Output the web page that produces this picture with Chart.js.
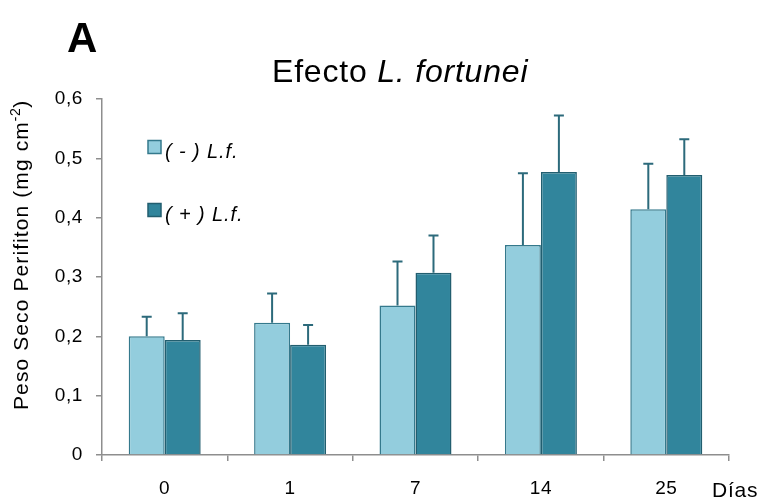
<!DOCTYPE html>
<html>
<head>
<meta charset="utf-8">
<title>Efecto L. fortunei</title>
<script src="https://cdn.jsdelivr.net/npm/chart.js@4/dist/chart.umd.min.js"></script>
<style>
  html, body { margin: 0; padding: 0; background: #ffffff; }
  #wrap { width: 764px; height: 499px; position: relative; }
</style>
</head>
<body>
<div id="wrap"><canvas id="chart" width="764" height="499"></canvas></div>
<script>
// Sampling days
const dias = ['0', '1', '7', '14', '25'];
// Mean periphyton dry weight (mg cm-2) without / with L. fortunei
const sinLf = [0.200, 0.223, 0.252, 0.354, 0.414];
const conLf = [0.194, 0.186, 0.307, 0.477, 0.472];
// Upper error (SD) for each mean
const errSinLf = [0.033, 0.049, 0.074, 0.121, 0.077];
const errConLf = [0.045, 0.033, 0.063, 0.095, 0.060];
// Legend labels
const serieNames = ['( - ) L.f.', '( + ) L.f.'];
// Y tick values
const yTicks = [0, 0.1, 0.2, 0.3, 0.4, 0.5, 0.6];

const FONT = "'Liberation Sans', Arial, Helvetica, sans-serif";
const LIGHT = '#93CDDD', LIGHT_EDGE = '#34798C';
const DARK = '#31859C', DARK_EDGE = '#225E6F';
const ERR = '#2C6A7B';
const AXIS = '#8E8E8E';

// Error bars (upward only) drawn from each bar's top
const errorBars = {
  id: 'errorBars',
  afterDatasetsDraw(chart) {
    const ctx = chart.ctx;
    const y = chart.scales.y;
    chart.data.datasets.forEach((ds, di) => {
      const meta = chart.getDatasetMeta(di);
      meta.data.forEach((bar, i) => {
        const top = y.getPixelForValue(ds.data[i] + ds.errores[i]);
        ctx.save();
        ctx.strokeStyle = ERR;
        ctx.lineWidth = 2;
        ctx.beginPath();
        ctx.moveTo(bar.x, bar.y);
        ctx.lineTo(bar.x, top);
        ctx.moveTo(bar.x - 5, top);
        ctx.lineTo(bar.x + 5, top);
        ctx.stroke();
        ctx.restore();
      });
    });
  }
};

// Panel letter, title, axis titles and legend
const decor = {
  id: 'decor',
  beforeDraw(chart) {
    chart.ctx.letterSpacing = '0.6px';
  },
  afterDraw(chart) {
    const ctx = chart.ctx;
    ctx.save();
    ctx.fillStyle = '#000';
    ctx.textBaseline = 'alphabetic';
    ctx.textAlign = 'left';

    // panel letter
    ctx.letterSpacing = '0px';
    ctx.font = `bold 42px ${FONT}`;
    ctx.fillText('A', 67, 52);

    // title with italic species name
    ctx.letterSpacing = '0.8px';
    ctx.font = `32px ${FONT}`;
    const t1 = 'Efecto ';
    ctx.fillText(t1, 272, 82);
    const w1 = ctx.measureText(t1).width;
    ctx.font = `italic 32px ${FONT}`;
    ctx.fillText('L. fortunei', 272 + w1, 82);

    // x axis title
    ctx.letterSpacing = '0.8px';
    ctx.font = `21px ${FONT}`;
    ctx.fillText('Días', 712, 497);

    // y axis title (rotated) with superscript
    ctx.save();
    ctx.translate(28, 410);
    ctx.rotate(-Math.PI / 2);
    ctx.letterSpacing = '1.1px';
    ctx.font = `21px ${FONT}`;
    const a = 'Peso Seco Perifiton (mg cm';
    ctx.fillText(a, 0, 0);
    let x = ctx.measureText(a).width;
    ctx.font = `14px ${FONT}`;
    ctx.letterSpacing = '0.5px';
    ctx.fillText('-2', x, -8);
    x += ctx.measureText('-2').width;
    ctx.font = `21px ${FONT}`;
    ctx.letterSpacing = '1.1px';
    ctx.fillText(')', x, 0);
    ctx.restore();

    // legend
    const items = [
      { name: serieNames[0], fill: LIGHT, edge: LIGHT_EDGE, cy: 147 },
      { name: serieNames[1], fill: DARK, edge: DARK_EDGE, cy: 210 }
    ];
    items.forEach(it => {
      ctx.fillStyle = it.fill;
      ctx.fillRect(148, it.cy - 6.5, 13, 13);
      ctx.strokeStyle = it.edge;
      ctx.lineWidth = 1.5;
      ctx.strokeRect(148, it.cy - 6.5, 13, 13);
      ctx.fillStyle = '#000';
      ctx.letterSpacing = '0.9px';
      ctx.font = `italic 20px ${FONT}`;
      ctx.fillText(it.name, 165, it.cy + 11);
    });
    ctx.restore();
  }
};

new Chart(document.getElementById('chart'), {
  type: 'bar',
  data: {
    labels: dias,
    datasets: [
      { label: serieNames[0], data: sinLf, errores: errSinLf,
        backgroundColor: LIGHT, borderColor: LIGHT_EDGE, borderWidth: 1.5 },
      { label: serieNames[1], data: conLf, errores: errConLf,
        backgroundColor: DARK, borderColor: DARK_EDGE, borderWidth: 1.5 }
    ]
  },
  options: {
    responsive: false,
    animation: false,
    devicePixelRatio: 1,
    layout: { padding: { top: 99, right: 35, left: 0, bottom: 0 } },
    datasets: { bar: { categoryPercentage: 0.574, barPercentage: 1.0 } },
    plugins: { legend: { display: false }, title: { display: false }, tooltip: { enabled: false } },
    scales: {
      x: {
        afterFit(s) { s.height = 44; },
        grid: { drawOnChartArea: false, color: AXIS, lineWidth: 1.5, tickLength: 6, offset: true },
        border: { color: AXIS, width: 1.5 },
        ticks: { color: '#000', font: { family: FONT, size: 19 }, padding: 16, maxRotation: 0 }
      },
      y: {
        min: 0, max: 0.6,
        afterFit(s) { s.width = 102; },
        afterBuildTicks(s) { s.ticks = yTicks.map(v => ({ value: v })); },
        grid: { drawOnChartArea: false, color: AXIS, lineWidth: 1.5, tickLength: 6 },
        border: { color: AXIS, width: 1.5 },
        ticks: {
          color: '#000', font: { family: FONT, size: 19 }, padding: 13,
          callback: v => v === 0 ? '0' : v.toFixed(1).replace('.', ',')
        }
      }
    }
  },
  plugins: [errorBars, decor]
});
</script>
</body>
</html>
